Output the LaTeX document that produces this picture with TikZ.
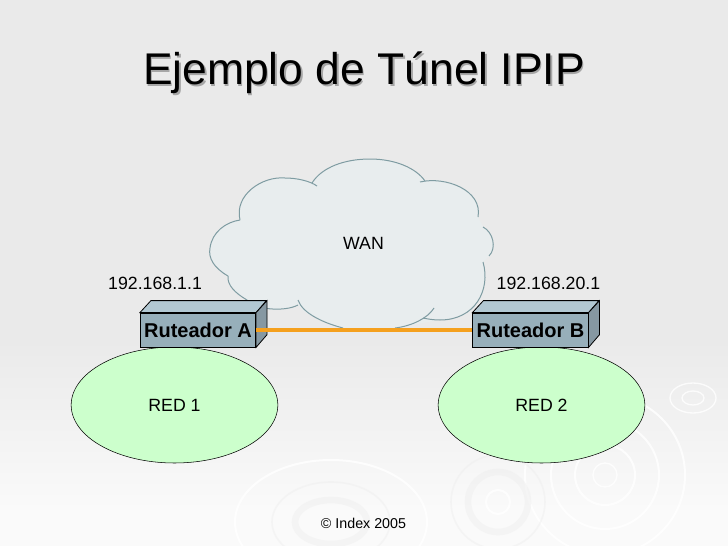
\documentclass[tikz,border=0pt]{standalone}
\usepackage{fontspec}
\setmainfont{Liberation Sans}
\usetikzlibrary{positioning, shapes.geometric, calc}

\definecolor{slidegray}{HTML}{EAEAEA}
\definecolor{slidelight}{HTML}{FAFAFA}
\definecolor{cloudfill}{HTML}{E8EDEE}
\definecolor{cloudline}{HTML}{7F9CA2}
\definecolor{boxfront}{HTML}{97AFBA}
\definecolor{boxtop}{HTML}{B2C8D2}
\definecolor{boxside}{HTML}{8698A2}
\definecolor{redfill}{HTML}{CCFFCC}
\definecolor{linkcolor}{HTML}{F5A01E}

\begin{document}
\begin{tikzpicture}[
    x=0.75pt, y=-0.75pt,
    ripple/.style={draw=white, line width=1.5pt, opacity=0.8},
    ripplegray/.style={draw=black!7, line width=1.2pt, opacity=0.45},
    lobe/.style={draw=cloudline, line width=0.75pt},
    lan/.style={draw=black, line width=0.4pt, fill=redfill, ellipse, minimum width=155pt, minimum height=87pt,
                inner sep=0pt},
    router/.style={draw=black, line width=0.6pt, fill=boxfront, minimum width=86.5pt, minimum height=25.5pt,
                inner sep=0pt, font=\fontsize{15pt}{17pt}\selectfont\bfseries},
    iplabel/.style={font=\fontsize{13.3pt}{15pt}\selectfont, inner sep=0pt},
    link/.style={draw=linkcolor, line width=3pt},
]
\useasboundingbox (0,0) rectangle (728,546);

% Slide background
\fill[slidegray] (0,0) rectangle (728,340);
\shade[top color=slidegray, bottom color=slidelight] (0,340) rectangle (728,510);
\fill[slidelight] (0,510) rectangle (728,546);

% Ripples
\draw[ripple] (605,475) circle (80);
\draw[ripple] (605,475) circle (54);
\draw[ripple] (605,475) circle (30);
\draw[ripple, line width=1pt] (605,475) circle (12);
\draw[ripplegray] (498,502) circle (47);
\draw[ripplegray, line width=5pt] (498,502) circle (30);
\draw[ripple] (498,502) circle (12);
\draw[ripple] (331,522) ellipse (96 and 62);
\draw[ripplegray] (331,522) ellipse (59 and 40);
\draw[ripplegray, line width=5pt] (331,522) ellipse (36 and 22);
\draw[ripple, line width=1pt] (693,398) ellipse (23 and 15);
\draw[ripple, line width=1pt] (693,398) ellipse (11 and 7);

% Title
\node[text=black!35, font=\fontsize{33.3pt}{40pt}\selectfont] (titleshadow) at (365.5,74.5) {Ejemplo de Túnel IPIP};
\node[font=\fontsize{33.3pt}{40pt}\selectfont] (title) at (364,73) {Ejemplo de Túnel IPIP};

% Cloud
\fill[cloudfill] (240,220) .. controls (234,195) and (262,176) .. (285,178)
    .. controls (297,178) and (305,178) .. (312,183) .. controls (322,167) and (345,159) .. (370,159)
    .. controls (395,159) and (416,168) .. (425,181) .. controls (445,176) and (483,190) .. (478,217)
    -- (483,227) .. controls (493,232) and (497,248) .. (489,256) -- (483,262)
    .. controls (491,290) and (475,320) .. (440,320) -- (395,328) -- (343,328)
    .. controls (320,322) and (302,312) .. (298,305) .. controls (285,312) and (255,310) .. (247,300)
    .. controls (235,293) and (227,285) .. (228,276) .. controls (214,268) and (208,258) .. (210,248)
    .. controls (212,232) and (226,222) .. (240,220) -- cycle;
\draw[lobe] (240,220) .. controls (234,195) and (262,176) .. (285,178) .. controls (297,178) and (310,181) .. (317,186);
\draw[lobe] (312,183) .. controls (322,167) and (345,159) .. (370,159) .. controls (395,159) and (416,168) .. (425,181);
\draw[lobe] (420,182) .. controls (445,176) and (483,190) .. (478,217);
\draw[lobe] (483,227) .. controls (493,232) and (497,248) .. (489,256);
\draw[lobe] (483,262) .. controls (491,290) and (475,320) .. (440,320) .. controls (433,320) and (428,319) .. (423,318);
\draw[lobe] (434,308) .. controls (428,318) and (412,326) .. (395,328);
\draw[lobe] (343,328) .. controls (320,322) and (302,312) .. (298,300);
\draw[lobe] (298,305) .. controls (285,312) and (255,310) .. (247,300) .. controls (235,293) and (227,285) .. (228,276);
\draw[lobe] (228,276) .. controls (214,268) and (208,258) .. (210,248) .. controls (212,232) and (226,222) .. (240,220);
\node[iplabel] (wan) at (363.5,243) {WAN};

% Networks
\node[lan] (red1) at (174.5,405) {};
\node[lan] (red2) at (541.5,405) {};
\node[iplabel] (red1text) at (174.5,405) {RED 1};
\node[iplabel] (red2text) at (541.5,405) {RED 2};

% Routers
\node[router] (routera) at (198,330) {Ruteador A};
\node[router] (routerb) at (530.5,330) {Ruteador B};

\draw[line width=0.6pt, fill=boxtop] (routera.north west) -- ++(11,-12) -- ++(115.5,0) -- (routera.north east) -- cycle;
\draw[line width=0.6pt, fill=boxside] (routera.north east) -- ++(11,-12) -- ++(0,34) -- (routera.south east) -- cycle;
\draw[line width=0.6pt, fill=boxtop] (routerb.north west) -- ++(11,-12) -- ++(115.5,0) -- (routerb.north east) -- cycle;
\draw[line width=0.6pt, fill=boxside] (routerb.north east) -- ++(11,-12) -- ++(0,34) -- (routerb.south east) -- cycle;

\draw[link] (routera.east) -- (routerb.west);

\node[iplabel, above=16pt of routera.north west, anchor=south west, xshift=-24pt, yshift=1pt] (ipa) {192.168.1.1};
\node[iplabel, above=16pt of routerb.north west, anchor=south west, xshift=18pt, yshift=1pt] (ipb) {192.168.20.1};

\node[font=\fontsize{10.7pt}{13pt}\selectfont, inner sep=0pt] (copy) at (363.5,523) {© Index 2005};

\end{tikzpicture}
\end{document}
